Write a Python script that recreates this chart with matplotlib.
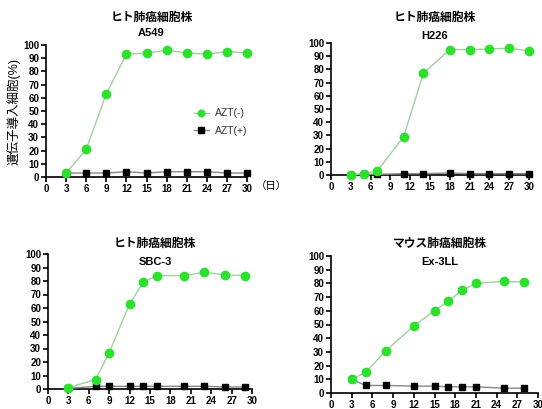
import matplotlib.pyplot as plt

plt.rcParams['font.family'] = ['Liberation Sans', 'Noto Sans CJK JP']

# A549
a549_x = [3, 6, 9, 12, 15, 18, 21, 24, 27, 30]
a549_neg = [3, 21, 63, 93, 94, 96, 94, 93, 95, 94]
a549_pos = [3, 3, 3, 4, 3, 4, 4, 4, 3, 3]

# H226
h226_x = [3, 5, 7, 11, 14, 18, 21, 24, 27, 30]
h226_neg = [0, 1, 3, 29, 77, 95, 95, 95.5, 96, 94]
h226_pos = [0.3, 0.5, 0.5, 1, 1, 1.5, 1, 1, 1, 1]

# SBC-3
sbc3_x = [3, 7, 9, 12, 14, 16, 20, 23, 26, 29]
sbc3_neg = [1, 7, 27, 63, 79, 84, 84, 86.5, 84.5, 84]
sbc3_pos = [0.5, 2, 2, 2, 2, 2, 2, 2, 1.5, 1.5]

# Ex-3LL
ex3_x = [3, 5, 8, 12, 15, 17, 19, 21, 25, 28]
ex3_neg = [10, 15, 31, 49, 60, 67, 75, 80, 81.5, 81]
ex3_pos = [10, 5.5, 5.5, 5, 5, 4.5, 4.5, 4.5, 3.5, 3.5]

titles = ['ヒト肺癌細胞株', 'ヒト肺癌細胞株', 'ヒト肺癌細胞株', 'マウス肺癌細胞株']
names = ['A549', 'H226', 'SBC-3', 'Ex-3LL']
xticks = list(range(0, 31, 3))
yticks = list(range(0, 101, 10))

W, H = 542, 409
fig = plt.figure(figsize=(W / 100, H / 100), dpi=100)

# axes boxes in pixels: left, right, top, bottom
boxes = [(46, 247, 45, 177), (331, 529, 43, 175),
         (48, 252, 254, 389), (331, 538, 256, 393)]
title_y = [(18, 33), (18, 36), (244, 262), (244, 262)]
data = [(a549_x, a549_neg, a549_pos), (h226_x, h226_neg, h226_pos),
        (sbc3_x, sbc3_neg, sbc3_pos), (ex3_x, ex3_neg, ex3_pos)]

green = '#2ee02e'
green_line = '#9fd09f'

for i in range(4):
    l, r, t, b = boxes[i]
    ax = fig.add_axes([l / W, 1 - b / H, (r - l) / W, (b - t) / H])
    x, neg, pos = data[i]
    ax.plot(x, pos, color='#888888', lw=1, marker='s', ms=5,
            mfc='black', mec='black', clip_on=False, zorder=3, label='AZT(+)')
    ax.plot(x, neg, color=green_line, lw=1, marker='o', ms=6,
            mfc=green, mec=green, clip_on=False, zorder=4, label='AZT(-)')
    ax.set_xlim(0, 30)
    ax.set_ylim(0, 100)
    ax.set_xticks(xticks)
    ax.set_yticks(yticks)
    ax.spines['top'].set_visible(False)
    ax.spines['right'].set_visible(False)
    for s in ['left', 'bottom']:
        ax.spines[s].set_linewidth(1.2)
    ax.tick_params(length=3.5, width=1.2, labelsize=7, pad=1.5)
    for lab in ax.get_xticklabels() + ax.get_yticklabels():
        lab.set_fontweight('bold')
    cx = (l + r) / 2 + 5
    fig.text(cx / W, 1 - title_y[i][0] / H, titles[i], ha='center',
             va='center', fontsize=8.5, fontweight='bold')
    fig.text(cx / W, 1 - title_y[i][1] / H, names[i], ha='center',
             va='center', fontsize=8, fontweight='bold')
    if i == 0:
        h, lb = ax.get_legend_handles_labels()
        ax.legend(h[::-1], lb[::-1], loc='upper left',
                  bbox_to_anchor=(0.69, 0.59), frameon=False,
                  fontsize=7.5, handlelength=1.4, handletextpad=0.6,
                  labelspacing=0.7, labelcolor='#333333', markerscale=0.8)
        ax.set_ylabel('遺伝子導入細胞(%)', fontsize=9, labelpad=2)
        fig.text(256 / W, 1 - 186 / H, '（日）', ha='left', va='center',
                 fontsize=7.5)

fig.savefig('out.png', dpi=100)
